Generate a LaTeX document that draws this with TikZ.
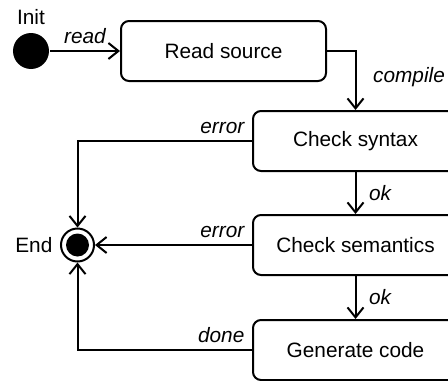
\documentclass[tikz,border=0pt]{standalone}
\usepackage{fontspec}
\setmainfont{Liberation Sans}
\usetikzlibrary{arrows.meta,positioning}
\tikzset{
    state/.style ={rectangle, draw, rounded corners=4pt, minimum width=102.5pt, minimum height=30pt},
    startdot/.style ={circle, fill, minimum size=18pt, inner sep=0pt},
    enddot/.style ={circle, draw, minimum size=16.5pt, inner sep=0pt,
        path picture={\fill (path picture bounding box.center) circle (5.75pt);}},
    trans/.style = {font=\fontsize{10.4}{12.5}\selectfont\itshape}
}

\begin{document}
\begin{tikzpicture}[line width=1pt, >={Straight Barb[length=5pt,width=8pt]}, every node/.style={font=\fontsize{10.4}{12.5}\selectfont}]

  \useasboundingbox (-15.5pt,25.5pt) rectangle (208.5pt,-164.5pt);

  \node[startdot, label={above:Init}]                  (init)   {};
  \node[state, right=35pt of init]                     (read)   {Read source};
  \node[state, below right=14pt and -37.5pt of read]   (syntax) {Check syntax};
  \node[state, below=21pt of syntax]                   (sem)    {Check semantics};
  \node[state, below=21.5pt of sem]                    (gen)    {Generate code};
  \node[enddot, left=78.5pt of sem, label={left:End}]  (end)    {};

  \draw[->] (init) -- node[trans, above] {read} (read);
  \draw[->] (read.east) -| node[trans, pos=0.72, right=5pt] {compile} (syntax.north);
  \draw[->] (syntax) -- node[trans, right=3pt] {ok} (sem);
  \draw[->] (sem) -- node[trans, right=3pt] {ok} (gen);

  % every way out ends in the final state
  \draw[->] (syntax.west) -| node[trans, pos=0, above left] {error} (end.north);
  \draw[->] (sem.west) -- node[trans, pos=0, above left] {error} (end.east);
  \draw[->] (gen.west) -| node[trans, pos=0, above left] {done} (end.south);
\end{tikzpicture}
\end{document}
